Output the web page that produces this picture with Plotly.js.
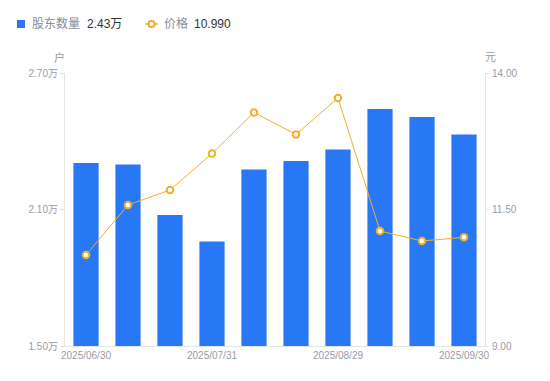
<!DOCTYPE html>
<html><head><meta charset="utf-8">
<script src="https://cdn.plot.ly/plotly-3.0.1.min.js"></script>
<style>html,body{margin:0;padding:0;background:#fff}#chart{width:550px;height:381px}</style>
</head><body><div id="chart"></div>
<script>
var dates = ["2025/06/30","2025/07/10","2025/07/20","2025/07/31","2025/08/10","2025/08/20","2025/08/29","2025/09/10","2025/09/19","2025/09/30"];
var holders = [2.304, 2.298, 2.076, 1.959, 2.276, 2.313, 2.364, 2.542, 2.507, 2.430];
var price = [10.667, 11.582, 11.857, 12.526, 13.277, 12.874, 13.542, 11.106, 10.923, 10.990];
var shownDates = ["2025/06/30","2025/07/31","2025/08/29","2025/09/30"];
var leftTicks = [1.5, 2.1, 2.7];
var leftTickText = ["1.50万","2.10万","2.70万"];
var rightTicks = [9, 11.5, 14];
var rightTickText = ["9.00","11.50","14.00"];

var blue = "#2878f5", orange = "#f7ad2c";
var F = "Arial, 'Noto Sans CJK SC', sans-serif";
var L = 65, R = 485, T = 73, B = 346;
function px(x){return (x-L)/(R-L);}
function py(y){return (B-y)/(B-T);}

var traces = [
 {type:"bar", x:dates, y:holders, marker:{color:blue}, yaxis:"y", hoverinfo:"none", showlegend:false},
 {type:"scatter", mode:"lines+markers", x:dates, y:price, yaxis:"y2", cliponaxis:false,
  line:{color:orange, width:1}, marker:{size:6.5, color:"#fff", line:{color:orange, width:2}}, hoverinfo:"none", showlegend:false}
];

var layout = {
 width:550, height:381,
 margin:{l:L, r:550-R, t:T, b:381-B},
 paper_bgcolor:"#fff", plot_bgcolor:"#fff",
 font:{family:F, size:10, color:"#9a9aa8"},
 bargap:0.4,
 xaxis:{type:"category", range:[-0.5, 9.5], autorange:false, tickvals:shownDates, ticktext:shownDates, showline:true, linecolor:"#e3e3e8", linewidth:1,
   ticks:"", showgrid:false, zeroline:false, tickfont:{size:10, color:"#9a9aa8"}, fixedrange:true},
 yaxis:{range:[1.5,2.7], tickvals:leftTicks, ticktext:leftTickText, showline:true, linecolor:"#e3e3e8", linewidth:1,
   ticks:"outside", ticklen:4, tickcolor:"#e3e3e8", showgrid:false, zeroline:false, tickfont:{size:10, color:"#9a9aa8"}},
 yaxis2:{range:[9,14], overlaying:"y", side:"right", tickvals:rightTicks, ticktext:rightTickText, showline:true, linecolor:"#e3e3e8", linewidth:1,
   ticks:"outside", ticklen:4, tickcolor:"#e3e3e8", showgrid:false, zeroline:false, tickfont:{size:10, color:"#9a9aa8"}},
 shapes:[
  {type:"rect", xref:"paper", yref:"paper", x0:px(17), x1:px(25), y0:py(28), y1:py(20), fillcolor:blue, line:{width:0}},
  {type:"line", xref:"paper", yref:"paper", x0:px(145), x1:px(158), y0:py(24), y1:py(24), line:{color:orange, width:1.5}},
  {type:"circle", xref:"paper", yref:"paper", x0:px(148.5), x1:px(154.5), y0:py(27), y1:py(21), fillcolor:"#fff", line:{color:orange, width:2}}
 ],
 annotations:[
  {xref:"paper", yref:"paper", x:px(30), y:py(24), xanchor:"left", yanchor:"middle", text:"股东数量", showarrow:false, font:{size:12, color:"#8a8a96"}},
  {xref:"paper", yref:"paper", x:px(85), y:py(24), xanchor:"left", yanchor:"middle", text:"2.43万", showarrow:false, font:{size:12, color:"#333"}},
  {xref:"paper", yref:"paper", x:px(162), y:py(24), xanchor:"left", yanchor:"middle", text:"价格", showarrow:false, font:{size:12, color:"#8a8a96"}},
  {xref:"paper", yref:"paper", x:px(192), y:py(24), xanchor:"left", yanchor:"middle", text:"10.990", showarrow:false, font:{size:12, color:"#333"}},
  {xref:"paper", yref:"paper", x:px(59), y:py(57), xanchor:"center", yanchor:"middle", text:"户", showarrow:false, font:{size:11, color:"#9a9aa8"}},
  {xref:"paper", yref:"paper", x:px(490), y:py(57), xanchor:"center", yanchor:"middle", text:"元", showarrow:false, font:{size:11, color:"#9a9aa8"}}
 ]
};
Plotly.newPlot("chart", traces, layout, {staticPlot:true, displayModeBar:false});
</script></body></html>
